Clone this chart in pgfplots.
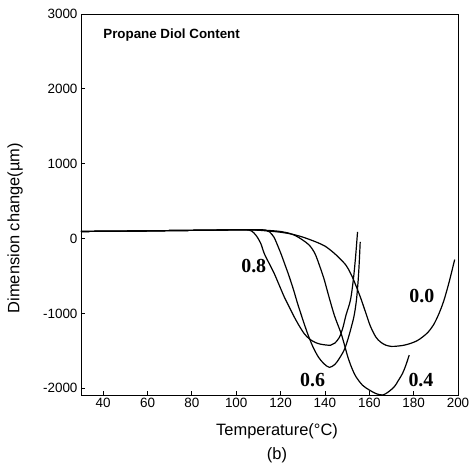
\documentclass[border=0pt]{standalone}
\usepackage{pgfplots}
\pgfplotsset{compat=1.18}
\usepackage{fontspec}
\setmainfont{Liberation Sans}
\newfontfamily\labelfont{Liberation Serif}

\tikzset{curve/.style={black, line width=1.2bp, smooth, tension=0.5, mark=none}}

\begin{document}
\begin{tikzpicture}
\path[use as bounding box] (-81bp,-77bp) rectangle (389bp,395bp);
\begin{axis}[
  at={(0,0)}, anchor=south west,
  scale only axis, width=377bp, height=381bp,
  xmin=30, xmax=200, ymin=-2089, ymax=3000,
  xtick={40,60,...,200},
  ytick={-2000,-1000,0,1000,2000,3000},
  xtick pos=bottom, ytick pos=left,
  tick align=inside, major tick length=4bp,
  every tick/.style={black, line width=0.8bp},
  axis line style={line width=0.9bp},
  tick label style={font=\fontsize{13.5}{15}\selectfont},
  /pgf/number format/assume math mode=true,
  /pgf/number format/1000 sep={},
  scaled ticks=false,
  xlabel={Temperature(°C)},
  ylabel={Dimension change(µm)},
  every axis x label/.style={at={(axis description cs:0.52,-0.0945)}, anchor=center,
    font=\fontsize{16.5}{18}\selectfont},
  every axis y label/.style={at={(axis description cs:-0.175,0.438)}, rotate=90, anchor=center,
    font=\fontsize{16.5}{18}\selectfont},
  clip mode=individual,
]

% propane diol content 0.0
\addplot[curve] coordinates {
(30,95) (40,98) (50,100) (60,103) (70,107) (80,110) (90,113) (100,118) (105,118)
(110,112) (115,100) (120,85) (125,60) (130,20) (136,-45) (140,-100) (143.5,-178)
(146.5,-260) (149.5,-356) (151.5,-460) (153.3,-578) (156.2,-800) (158.5,-1000)
(160.5,-1170) (162.9,-1312) (165,-1380) (167.4,-1423) (170,-1440) (172.6,-1436)
(175.5,-1425) (178.6,-1400) (181.5,-1365) (184,-1315) (186.5,-1250) (189,-1150)
(191.3,-1010) (193.6,-830) (196,-580) (198.5,-280)
};

% propane diol content 0.4
\addplot[curve] coordinates {
(30,95) (40,98) (50,100) (60,103) (70,107) (80,110) (90,113) (100,118) (105,118)
(110,115) (115,108) (120,95) (124,70) (127,35) (130,-20) (133,-89) (135.5,-200)
(137.5,-356) (139.5,-530) (141.2,-712) (142.5,-850) (144.2,-1020) (145.8,-1150)
(147.3,-1267) (148.8,-1420) (150.3,-1578) (152,-1720) (154,-1845) (157,-1960)
(160,-2022) (163,-2070) (166,-2089) (168.5,-2050) (171.3,-1978) (173,-1900)
(175,-1800) (176.5,-1690) (178,-1556)
};

% propane diol content 0.6
\addplot[curve] coordinates {
(30,95) (40,98) (50,100) (60,103) (70,107) (80,110) (90,113) (100,118) (108,118)
(113,115) (115,90) (117,20) (118.5,-80) (120.2,-204) (122,-350) (124,-516)
(126,-700) (127.7,-871) (130,-1080) (132.2,-1271) (134.5,-1440) (137,-1580)
(139.5,-1670) (142,-1720) (144.5,-1680) (146.5,-1600) (148.8,-1480)
(150.5,-1330) (152,-1170) (153.2,-1022) (154.2,-822) (155,-550) (155.5,-300)
(155.9,-45)
};

% propane diol content 0.8
\addplot[curve] coordinates {
(30,95) (40,98) (50,100) (60,103) (70,107) (80,110) (90,113) (100,118)
(104.5,118) (107,100) (109,40) (111,-60) (112.7,-204) (115,-340) (117.2,-471)
(119.5,-630) (121.7,-782) (124,-920) (126.2,-1049) (128.5,-1170) (130.7,-1271)
(133,-1340) (135.5,-1385) (138,-1410) (142.5,-1425) (144.5,-1395) (146.5,-1320)
(148,-1200) (149.5,-1022) (151.5,-822) (152.8,-550) (153.8,-250) (154.7,89)
};

\node[anchor=west, font=\bfseries\fontsize{13.4}{15}\selectfont]
  at (axis cs:38.5,2724) {Propane Diol Content};

\node[font=\labelfont\bfseries\fontsize{20}{22}\selectfont] at (axis cs:107.9,-369) {0.8};
\node[font=\labelfont\bfseries\fontsize{20}{22}\selectfont] at (axis cs:134.4,-1889) {0.6};
\node[font=\labelfont\bfseries\fontsize{20}{22}\selectfont] at (axis cs:183.3,-1889) {0.4};
\node[font=\labelfont\bfseries\fontsize{20}{22}\selectfont] at (axis cs:183.7,-769) {0.0};

\node[font=\fontsize{16.5}{18}\selectfont] at (axis description cs:0.52,-0.157) {(b)};
\end{axis}
\end{tikzpicture}
\end{document}
